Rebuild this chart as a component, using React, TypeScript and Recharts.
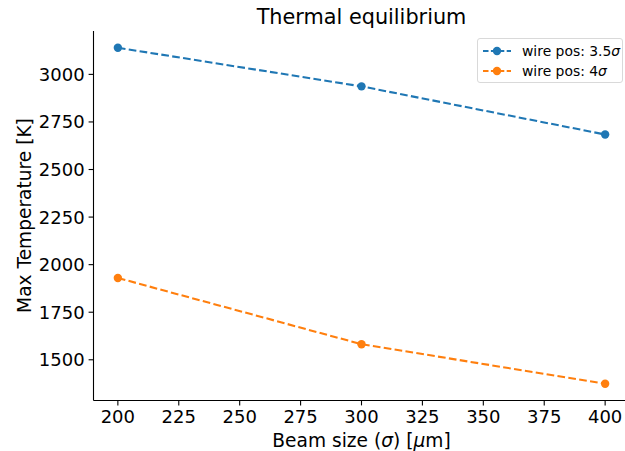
import React from "react";
import { LineChart, Line, XAxis, YAxis } from "recharts";

const beamSizes = [200, 300, 400];
const wirePos35 = [3140, 2937, 2684];
const wirePos4 = [1930, 1582, 1374];
const xTicks = [200, 225, 250, 275, 300, 325, 350, 375, 400];
const yTicks = [1500, 1750, 2000, 2250, 2500, 2750, 3000];
const seriesNames = ["wire pos: 3.5", "wire pos: 4"];

const BLUE = "#1f77b4";
const ORANGE = "#ff7f0e";
const FONT = "DejaVu Sans, sans-serif";

const data = beamSizes.map((b, i) => ({ beam: b, w35: wirePos35[i], w4: wirePos4[i] }));

const XTick = (props: any) => {
  const { x, y, payload } = props;
  return (
    <text x={x} y={y} dy="0.71em" textAnchor="middle" fontFamily={FONT} fontSize={18} fill="#000">
      {payload.value}
    </text>
  );
};

const YTick = (props: any) => {
  const { x, y, payload } = props;
  return (
    <text x={x} y={y} dy="0.36em" textAnchor="end" fontFamily={FONT} fontSize={18} fill="#000">
      {payload.value}
    </text>
  );
};

const LegendRow = ({ color, label }: { color: string; label: string }) => (
  <div style={{ display: "flex", alignItems: "center", height: 20, whiteSpace: "nowrap" }}>
    <svg width={32} height={12} style={{ marginRight: 10, flexShrink: 0 }}>
      <line x1={3} y1={6} x2={31} y2={6} stroke={color} strokeWidth={2.08} strokeDasharray="5.5 2.4" />
      <circle cx={17} cy={6} r={4.2} fill={color} />
    </svg>
    <span style={{ whiteSpace: "nowrap" }}>
      {label}
      <span style={{ fontStyle: "italic" }}>σ</span>
    </span>
  </div>
);

export default function App() {
  return (
    <div style={{ position: "absolute", left: 0, top: 0, width: 625, height: 451, overflow: "hidden", background: "#fff" }}>
      <LineChart width={640} height={451} data={data} margin={{ top: 31, right: 10.5, left: 0, bottom: 0 }}>
        <XAxis
          dataKey="beam"
          type="number"
          domain={[190, 410]}
          ticks={xTicks}
          allowDataOverflow
          height={50.5}
          tickSize={4.9}
          tickMargin={5}
          tick={<XTick />}
          axisLine={{ stroke: "#000", strokeWidth: 1.1 }}
          tickLine={{ stroke: "#000", strokeWidth: 1.1 }}
        />
        <XAxis
          xAxisId="top"
          orientation="top"
          dataKey="beam"
          type="number"
          domain={[190, 410]}
          height={0}
          tick={false}
          tickLine={false}
          axisLine={{ stroke: "#000", strokeWidth: 1.1 }}
        />
        <YAxis
          type="number"
          domain={[1286, 3228]}
          ticks={yTicks}
          allowDataOverflow
          width={93.5}
          tickSize={4.9}
          tickMargin={4}
          tick={<YTick />}
          axisLine={{ stroke: "#000", strokeWidth: 1.1 }}
          tickLine={{ stroke: "#000", strokeWidth: 1.1 }}
        />
        <Line
          dataKey="w35"
          type="linear"
          stroke={BLUE}
          strokeWidth={2.08}
          strokeDasharray="7.7 3.3"
          dot={{ r: 4.2, fill: BLUE, stroke: "none", strokeDasharray: "" }}
          activeDot={false}
          isAnimationActive={false}
        />
        <Line
          dataKey="w4"
          type="linear"
          stroke={ORANGE}
          strokeWidth={2.08}
          strokeDasharray="7.7 3.3"
          dot={{ r: 4.2, fill: ORANGE, stroke: "none", strokeDasharray: "" }}
          activeDot={false}
          isAnimationActive={false}
        />
      </LineChart>
      <svg width={625} height={451} style={{ position: "absolute", left: 0, top: 0, pointerEvents: "none" }}>
        <text x={361.5} y={24} textAnchor="middle" fontFamily={FONT} fontSize={20.8} fill="#000">
          Thermal equilibrium
        </text>
        <text x={361.5} y={447} textAnchor="middle" fontFamily={FONT} fontSize={18.6} fill="#000">
          Beam size (<tspan fontStyle="italic">σ</tspan>) [<tspan fontStyle="italic">μ</tspan>m]
        </text>
        <text
          x={0}
          y={0}
          transform="translate(31,215.5) rotate(-90)"
          textAnchor="middle"
          fontFamily={FONT}
          fontSize={18.6}
          fill="#000"
        >
          Max Temperature [K]
        </text>
      </svg>
      <div
        style={{
          position: "absolute",
          left: 477,
          top: 37.5,
          width: 146,
          height: 45,
          boxSizing: "border-box",
          border: "1px solid #d9d9d9",
          borderRadius: 3,
          background: "rgba(255,255,255,0.8)",
          fontFamily: FONT,
          fontSize: 13.9,
          color: "#000",
          padding: "2px 0 0 2px",
        }}
      >
        <LegendRow color={BLUE} label={seriesNames[0]} />
        <LegendRow color={ORANGE} label={seriesNames[1]} />
      </div>
    </div>
  );
}
